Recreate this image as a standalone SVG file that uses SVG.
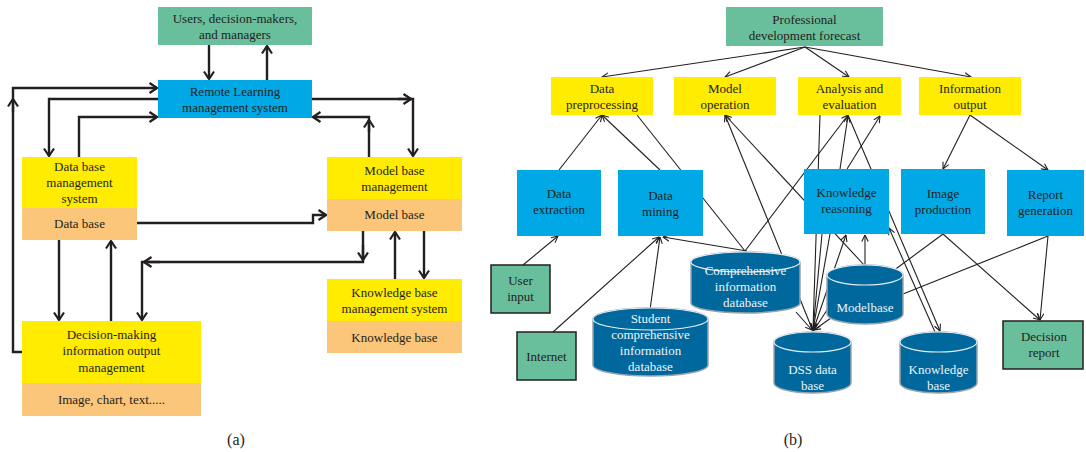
<svg xmlns="http://www.w3.org/2000/svg" width="1086" height="452" viewBox="0 0 1086 452">
  <style>
    text { font-family: "Liberation Serif", "Times New Roman", serif; font-size: 13px; fill: #231f20; text-anchor: middle; }
    .wt { fill: #eef4f8; }
    .green { fill: #69be9b; }
    .greenb { fill: #69be9b; stroke: #231f20; stroke-width: 1.5; }
    .blue { fill: #00a9e6; }
    .yellow { fill: #ffec00; }
    .orange { fill: #fbc67a; }
    .cyl { fill: #00689c; stroke: #9aa4ab; stroke-width: 1.5; }
    .cyltop { fill: #00689c; stroke: #e4edf3; stroke-width: 1.2; }
    .thick { fill: none; stroke: #231f20; stroke-width: 2.4; marker-end: url(#ahA); }
    .thickn { fill: none; stroke: #231f20; stroke-width: 2.4; }
    .thin { fill: none; stroke: #231f20; stroke-width: 1.1; marker-end: url(#ahB); }
    .thinn { fill: none; stroke: #231f20; stroke-width: 1.1; }
  </style>
  <defs>
    <marker id="ahA" viewBox="0 0 10 12" refX="9" refY="6" markerWidth="10" markerHeight="12" markerUnits="userSpaceOnUse" orient="auto">
      <path d="M1.5,1 L9,6 L1.5,11" fill="none" stroke="#231f20" stroke-width="2.2"/>
    </marker>
    <marker id="ahB" viewBox="0 0 8 8" refX="7.5" refY="4" markerWidth="8" markerHeight="8" markerUnits="userSpaceOnUse" orient="auto">
      <path d="M1,0.8 L7.5,4 L1,7.2" fill="none" stroke="#231f20" stroke-width="1.1"/>
    </marker>
  </defs>

  <!-- Panel (a): connectors -->
  <g id="connectors-a">
    <path class="thick" d="M209,45 V79"/>
    <path class="thick" d="M267,80 V46"/>
    <path class="thick" d="M22,352 H13 V88 H157"/>
    <path class="thick" d="M13,112 V99"/>
    <path class="thick" d="M158,99 H49 V156"/>
    <path class="thick" d="M79,157 V117 H157"/>
    <path class="thick" d="M312,99 H413 V156"/>
    <path class="thick" d="M398,99 H411"/>
    <path class="thick" d="M369,157 V117 H313"/>
    <path class="thick" d="M369,132 V120"/>
    <path class="thick" d="M137,223 H313 V215 H326"/>
    <path class="thick" d="M363,231 V262 H142 V320"/>
    <path class="thick" d="M363,245 V260"/>
    <path class="thick" d="M160,262 H144"/>
    <path class="thick" d="M395,279 V232"/>
    <path class="thick" d="M424,231 V278"/>
    <path class="thick" d="M59,240 V320"/>
    <path class="thick" d="M111,321 V241"/>
  </g>

  <!-- Panel (a): nodes -->
  <g id="users">
    <rect class="green" x="158" y="7" width="154" height="38"/>
    <text x="235" y="22.5">Users, decision-makers,</text>
    <text x="235" y="38.5">and managers</text>
  </g>
  <g id="remote-lms">
    <rect class="blue" x="158" y="80" width="154" height="38"/>
    <text x="235" y="95.5">Remote Learning</text>
    <text x="235" y="111.5">management system</text>
  </g>
  <g id="dbms">
    <rect class="yellow" x="22" y="157" width="115" height="51"/>
    <rect class="orange" x="22" y="208" width="115" height="32"/>
    <text x="79.5" y="170.5">Data base</text>
    <text x="79.5" y="186.5">management</text>
    <text x="79.5" y="202.5">system</text>
    <text x="79.5" y="228">Data base</text>
  </g>
  <g id="model-base">
    <rect class="yellow" x="327" y="157" width="135" height="42"/>
    <rect class="orange" x="327" y="199" width="135" height="32"/>
    <text x="394.5" y="174.5">Model base</text>
    <text x="394.5" y="190.5">management</text>
    <text x="394.5" y="219">Model base</text>
  </g>
  <g id="knowledge-base-ms">
    <rect class="yellow" x="327" y="279" width="135" height="42"/>
    <rect class="orange" x="327" y="321" width="135" height="32"/>
    <text x="394.5" y="296.5">Knowledge base</text>
    <text x="394.5" y="312.5">management system</text>
    <text x="394.5" y="342">Knowledge base</text>
  </g>
  <g id="decision-output">
    <rect class="yellow" x="22" y="321" width="179" height="62"/>
    <rect class="orange" x="22" y="383" width="179" height="33"/>
    <text x="111.5" y="338.5">Decision-making</text>
    <text x="111.5" y="355">information output</text>
    <text x="111.5" y="371.5">management</text>
    <text x="111.5" y="403.5">Image, chart, text.....</text>
  </g>
  <text x="236" y="444.5" style="font-size:16px">(a)</text>

  <!-- Panel (b): connectors -->
  <g id="connectors-b">
    <path class="thin" d="M805,47 L602,77"/>
    <path class="thin" d="M805,47 L725,77"/>
    <path class="thin" d="M805,47 L849,77"/>
    <path class="thin" d="M805,47 L971,77"/>
    <path class="thin" d="M559,170 L602,115"/>
    <path class="thin" d="M660,170 L602,115"/>
    <path class="thinn" d="M637,115 L745,251"/>
    <path class="thin" d="M523,265 L558,236"/>
    <path class="thin" d="M553,332 L659,237"/>
    <path class="thin" d="M650,310 L660,237"/>
    <path class="thin" d="M747,251 L663,237"/>
    <path class="thin" d="M745,251 L848,115"/>
    <path class="thin" d="M813,331 L725,115"/>
    <path class="thin" d="M865,266 L725,115"/>
    <path class="thin" d="M820,115 L813,330"/>
    <path class="thin" d="M848,115 L940,331"/>
    <path class="thin" d="M935,332 L889,228"/>
    <path class="thin" d="M840,169 L848,116"/>
    <path class="thin" d="M847,169 L880,116"/>
    <path class="thin" d="M822,234 L813,330"/>
    <path class="thin" d="M830,234 L813,330"/>
    <path class="thin" d="M813,331 L846,235"/>
    <path class="thin" d="M865,266 L865,235"/>
    <path class="thin" d="M796,312 L812,330"/>
    <path class="thin" d="M829,307 L814,330"/>
    <path class="thin" d="M831,318 L814,330"/>
    <path class="thin" d="M970,115 L943,169"/>
    <path class="thin" d="M970,115 L1048,170"/>
    <path class="thinn" d="M943,234 L893,271"/>
    <path class="thin" d="M943,234 L1040,320"/>
    <path class="thinn" d="M1048,236 L903,294"/>
    <path class="thin" d="M1048,236 L1040,320"/>
  </g>

  <!-- Panel (b): nodes -->
  <g id="forecast">
    <rect class="green" x="726" y="7" width="157" height="39"/>
    <text x="804.5" y="23.5">Professional</text>
    <text x="804.5" y="39.5">development forecast</text>
  </g>
  <g id="data-preprocessing">
    <rect class="yellow" x="551" y="77" width="102" height="38"/>
    <text x="602" y="92.5">Data</text>
    <text x="602" y="108.5">preprocessing</text>
  </g>
  <g id="model-operation">
    <rect class="yellow" x="674" y="77" width="102" height="38"/>
    <text x="725" y="92.5">Model</text>
    <text x="725" y="108.5">operation</text>
  </g>
  <g id="analysis-evaluation">
    <rect class="yellow" x="798" y="77" width="103" height="38"/>
    <text x="849.5" y="92.5">Analysis and</text>
    <text x="849.5" y="108.5">evaluation</text>
  </g>
  <g id="information-output">
    <rect class="yellow" x="919" y="77" width="102" height="38"/>
    <text x="970" y="92.5">Information</text>
    <text x="970" y="108.5">output</text>
  </g>
  <g id="data-extraction">
    <rect class="blue" x="517" y="170" width="84" height="66"/>
    <text x="559" y="197.5">Data</text>
    <text x="559" y="214">extraction</text>
  </g>
  <g id="data-mining">
    <rect class="blue" x="618" y="170" width="85" height="66"/>
    <text x="660.5" y="199.5">Data</text>
    <text x="660.5" y="215.5">mining</text>
  </g>
  <g id="knowledge-reasoning">
    <rect class="blue" x="804" y="169" width="85" height="65"/>
    <text x="846.5" y="196.5">Knowledge</text>
    <text x="846.5" y="212.5">reasoning</text>
  </g>
  <g id="image-production">
    <rect class="blue" x="901" y="169" width="84" height="65"/>
    <text x="943" y="197.5">Image</text>
    <text x="943" y="213.5">production</text>
  </g>
  <g id="report-generation">
    <rect class="blue" x="1007" y="170" width="77" height="66"/>
    <text x="1045.5" y="198.5">Report</text>
    <text x="1045.5" y="214.5">generation</text>
  </g>
  <g id="user-input">
    <rect class="greenb" x="491" y="265" width="59" height="48"/>
    <text x="520.5" y="284.5">User</text>
    <text x="520.5" y="300.5">input</text>
  </g>
  <g id="internet">
    <rect class="greenb" x="517" y="332" width="59" height="48"/>
    <text x="546.5" y="360.5">Internet</text>
  </g>
  <g id="decision-report">
    <rect class="greenb" x="1003" y="321" width="80" height="48"/>
    <text x="1044" y="340.5">Decision</text>
    <text x="1044" y="356.5">report</text>
  </g>
  <g id="comprehensive-db">
    <path class="cyl" d="M691,262 V303 A54.5,10 0 0 0 800,303 V262 A54.5,10 0 0 0 691,262 Z"/>
    <ellipse class="cyltop" cx="745.5" cy="262" rx="54.5" ry="10"/>
    <text class="wt" x="745.5" y="274.5">Comprehensive</text>
    <text class="wt" x="745.5" y="290.5">information</text>
    <text class="wt" x="745.5" y="306.5">database</text>
  </g>
  <g id="student-db">
    <path class="cyl" d="M593,319 V365 A57.5,11 0 0 0 708,365 V319 A57.5,11 0 0 0 593,319 Z"/>
    <ellipse class="cyltop" cx="650.5" cy="319" rx="57.5" ry="11"/>
    <text class="wt" x="650.5" y="322.5">Student</text>
    <text class="wt" x="650.5" y="338.5">comprehensive</text>
    <text class="wt" x="650.5" y="354.5">information</text>
    <text class="wt" x="650.5" y="370.5">database</text>
  </g>
  <g id="modelbase">
    <path class="cyl" d="M827,275 V314 A38,10 0 0 0 903,314 V275 A38,10 0 0 0 827,275 Z"/>
    <ellipse class="cyltop" cx="865" cy="275" rx="38" ry="10"/>
    <text class="wt" x="865" y="311.5">Modelbase</text>
  </g>
  <g id="dss-db">
    <path class="cyl" d="M774,342 V383 A38.5,10 0 0 0 851,383 V342 A38.5,10 0 0 0 774,342 Z"/>
    <ellipse class="cyltop" cx="812.5" cy="342" rx="38.5" ry="10"/>
    <text class="wt" x="812.5" y="373.5">DSS data</text>
    <text class="wt" x="812.5" y="389.5">base</text>
  </g>
  <g id="knowledge-db">
    <path class="cyl" d="M900,342 V383 A38.5,10 0 0 0 977,383 V342 A38.5,10 0 0 0 900,342 Z"/>
    <ellipse class="cyltop" cx="938.5" cy="342" rx="38.5" ry="10"/>
    <text class="wt" x="938.5" y="373.5">Knowledge</text>
    <text class="wt" x="938.5" y="389.5">base</text>
  </g>
  <text x="793" y="444.5" style="font-size:16px">(b)</text>
</svg>
